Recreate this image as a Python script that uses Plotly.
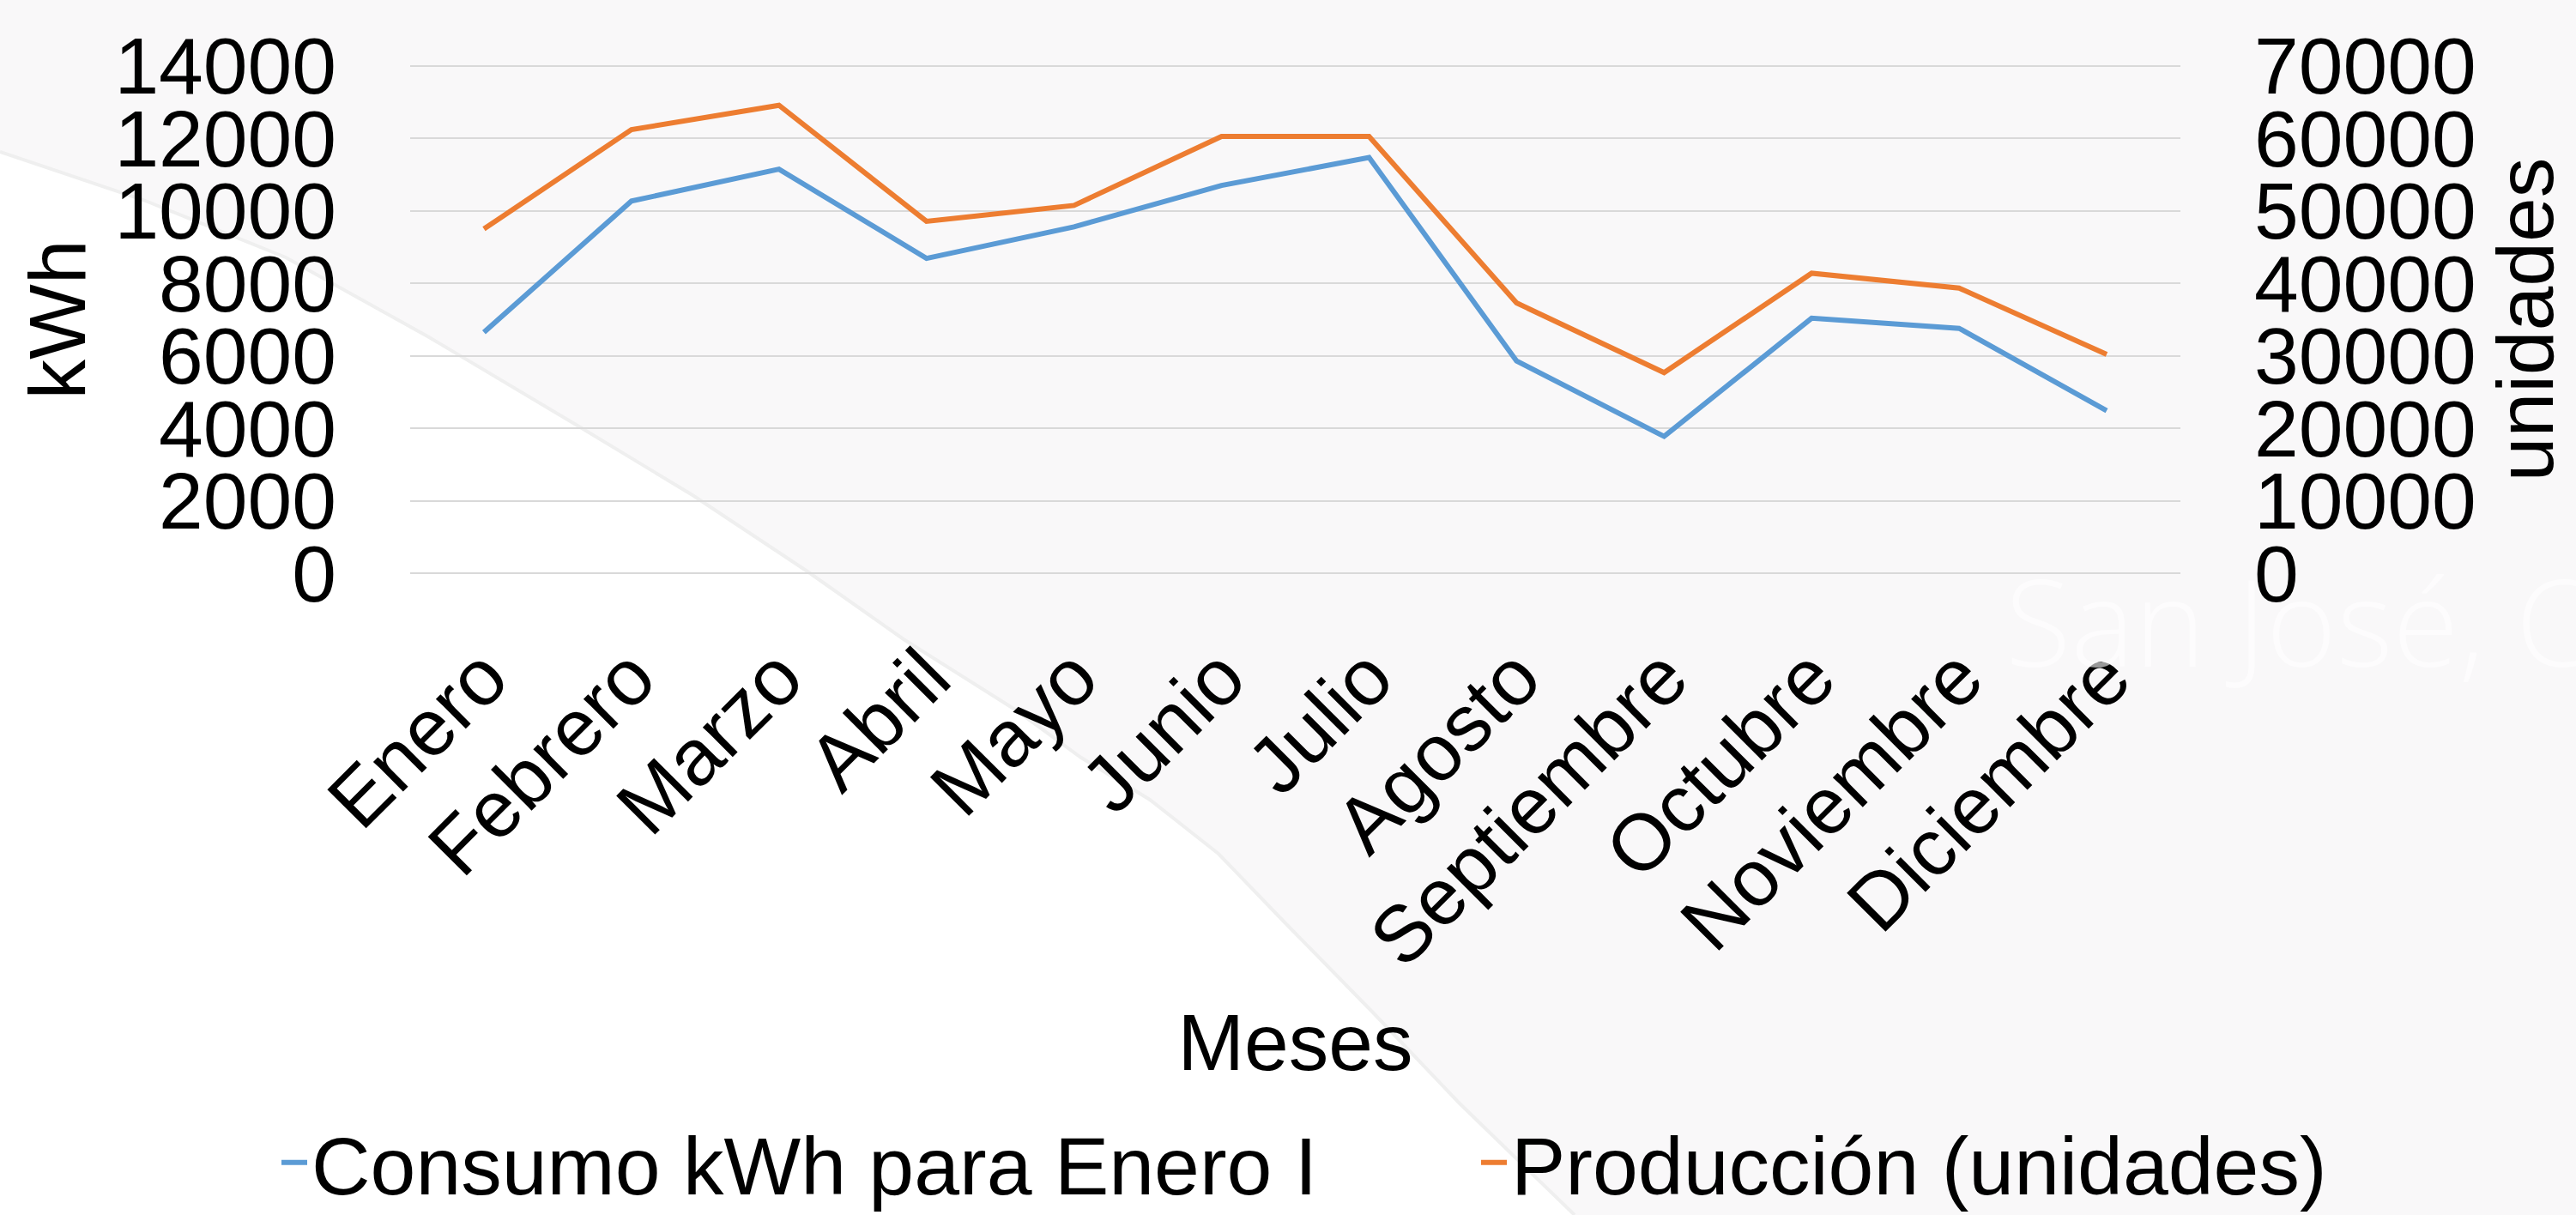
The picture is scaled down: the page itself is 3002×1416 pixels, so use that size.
import plotly.graph_objects as go

# ---------------- data ----------------
meses = ["Enero", "Febrero", "Marzo", "Abril", "Mayo", "Junio", "Julio",
         "Agosto", "Septiembre", "Octubre", "Noviembre", "Diciembre"]
consumo_kwh = [6650, 10270, 11150, 8690, 9560, 10700, 11470, 5860, 3780, 7040, 6760, 4490]
produccion_unidades = [47500, 61200, 64550, 48550, 50750, 60250, 60250, 37300, 27700, 41400, 39350, 30200]
ticks_kwh = [0, 2000, 4000, 6000, 8000, 10000, 12000, 14000]
ticks_unidades = [0, 10000, 20000, 30000, 40000, 50000, 60000, 70000]

# ---------------- layout geometry ----------------
W, H = 3002, 1416
PL, PR, PT, PB = 478, 2541, 75, 670  # plot area in pixels (range padded slightly)
FONT = "Liberation Sans, Arial, sans-serif"
PAD1 = 40      # small range padding so edge gridlines are drawn
PAD2 = PAD1 * 5


def px(x):
    return (x - PL) / (PR - PL)


def py(y):
    return (PB - y) / (PB - PT)


# diagonal background shading (upper-right region)
boundary = [(0, 177), (167, 233), (333, 300), (500, 393), (673, 496), (807, 577),
            (941, 666), (1053, 745), (1183, 827), (1260, 883), (1340, 932),
            (1420, 995), (1500, 1078), (1600, 1180), (1700, 1285), (1835, 1416)]
pts = boundary + [(W + 20, H + 20), (W + 20, -20), (0, -20)]
path = "M " + " L ".join(f"{px(x):.5f},{py(y):.5f}" for x, y in pts) + " Z"
edge = "M " + " L ".join(f"{px(x):.5f},{py(y):.5f}" for x, y in boundary)

fig = go.Figure()
fig.add_trace(go.Scatter(
    x=meses, y=consumo_kwh, name="Consumo kWh para Enero I", mode="lines",
    line=dict(color="#5B9BD5", width=6), yaxis="y", legend="legend"))
fig.add_trace(go.Scatter(
    x=meses, y=produccion_unidades, name="Producción (unidades)", mode="lines",
    line=dict(color="#ED7D31", width=6), yaxis="y2", legend="legend2"))

legend_common = dict(orientation="h", xanchor="left", yanchor="middle",
                     xref="container", yref="container",
                     font=dict(size=95, family=FONT, color="#000000"),
                     bgcolor="rgba(0,0,0,0)", itemclick=False, itemdoubleclick=False)

tf = dict(size=93, family=FONT, color="#000000")

fig.update_layout(
    width=W, height=H, autosize=False,
    margin=dict(l=PL, r=W - PR, t=PT, b=H - PB, pad=0),
    paper_bgcolor="#ffffff", plot_bgcolor="rgba(0,0,0,0)",
    font=dict(family=FONT, color="#000000", size=93),
    showlegend=True,
    legend=dict(x=323 / W, y=1 - 1355 / H, **legend_common),
    legend2=dict(x=1721 / W, y=1 - 1355 / H, **legend_common),
    xaxis=dict(type="category", range=[-0.5, 11.5], tickangle=-45, showgrid=False,
               showline=False, zeroline=False, ticks="", tickfont=tf,
               ticklabelstandoff=45, automargin=False,
               title=dict(text="Meses", font=tf, standoff=37)),
    yaxis=dict(range=[-PAD1, 14000 + PAD1], tickvals=ticks_kwh, tickformat="d",
               showgrid=True, gridcolor="#d9d9d9",
               gridwidth=2, zeroline=False, showline=False, ticks="",
               ticklabelstandoff=85, automargin=False, tickfont=tf,
               title=dict(text="kWh", font=tf, standoff=2)),
    yaxis2=dict(range=[-PAD2, 70000 + PAD2], tickvals=ticks_unidades, tickformat="d",
                overlaying="y", side="right",
                showgrid=False, zeroline=False, showline=False, ticks="",
                ticklabelstandoff=85, automargin=False, tickfont=tf,
                title=dict(text="unidades", font=tf, standoff=25)),
    shapes=[dict(type="path", xref="paper", yref="paper", path=path,
                 fillcolor="#f9f8f9", line=dict(width=0), layer="below"),
            dict(type="path", xref="paper", yref="paper", path=edge,
                 line=dict(color="#efefef", width=4), layer="below")],
    annotations=[dict(text="San José, C", xref="paper", yref="paper", x=px(2335), y=py(722),
                      xanchor="left", yanchor="middle", showarrow=False,
                      font=dict(family="Open Sans, sans-serif", size=140,
                                color="rgba(255,255,255,0.6)", weight=300))],
)

fig.write_html("out.html", config={"displayModeBar": False},
               post_script="document.body.style.margin='0';document.body.style.overflow='hidden';")
